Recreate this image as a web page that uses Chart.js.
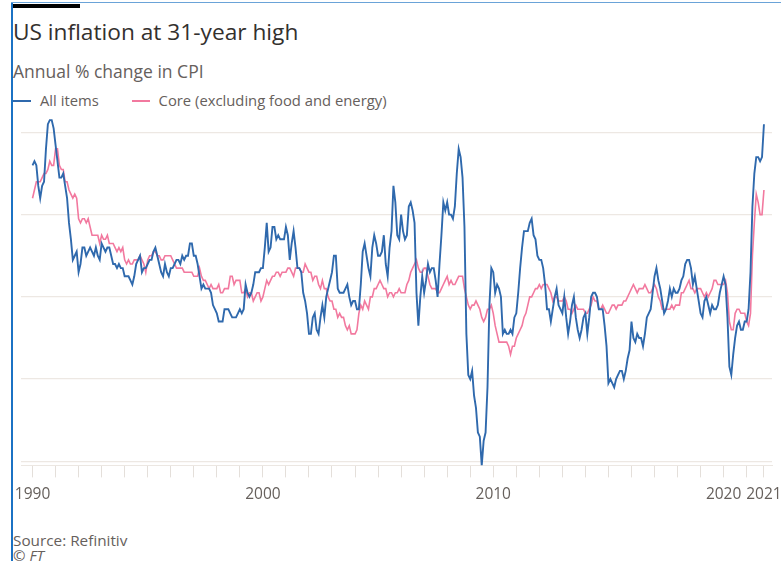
<!DOCTYPE html>
<html>
<head>
<meta charset="utf-8">
<script src="https://cdn.jsdelivr.net/npm/chart.js@4.4.1/dist/chart.umd.min.js"></script>
<style>
  html, body { margin: 0; padding: 0; background: #fff; }
  body { width: 781px; height: 561px; position: relative; overflow: hidden; font-family: "Open Sans", "Noto Sans", sans-serif; }
  .edge-left { position: absolute; left: 11px; top: 3px; width: 2px; height: 558px; background: #1b72c4; }
  .edge-top { position: absolute; left: 11px; top: 2px; width: 770px; height: 1px; background: #6aa3d8; }
  .bar { position: absolute; left: 13px; top: 4px; width: 67px; height: 4px; background: #000; }
  .title { position: absolute; left: 13px; top: 16px; font-size: 22.7px; color: #33302e; white-space: nowrap; letter-spacing: 0; }
  .subtitle { position: absolute; left: 13px; top: 59px; font-size: 17.5px; color: #66605c; white-space: nowrap; }
  .legend { position: absolute; left: 13px; top: 90px; font-size: 14.8px; color: #66605c; white-space: nowrap; }
  .legend span.key { display: inline-block; width: 18px; height: 2px; vertical-align: middle; margin-right: 9px; position: relative; top: -1px; }
  .legend span.item { margin-right: 29px; }
  .source { position: absolute; left: 13px; top: 533px; font-size: 15.3px; line-height: 15px; color: #66605c; white-space: nowrap; }
  .copy { position: absolute; left: 13px; top: 548px; font-size: 15px; line-height: 14px; color: #66605c; font-style: italic; white-space: nowrap; }
  #wrap { position: absolute; left: 0; top: 100px; width: 800px; height: 412px; }
</style>
</head>
<body>
<div class="edge-top"></div>
<div class="edge-left"></div>
<div class="bar"></div>
<div class="title">US inflation at 31-year high</div>
<div class="subtitle">Annual % change in CPI</div>
<div class="legend">
  <span class="key" style="background:#2f69ad"></span><span class="item">All items</span>
  <span class="key" style="background:#f2799f"></span><span>Core (excluding food and energy)</span>
</div>
<div id="wrap"><canvas id="chart"></canvas></div>
<div class="source">Source: Refinitiv</div>
<div class="copy">© FT</div>

<script>
// Monthly series, January 1990 onwards (annual % change in CPI)
const firstYear = 1990;

const allItems = [
  5.2, 5.3, 5.2, 4.7, 4.4, 4.7, 4.8, 5.6, 6.2, 6.3, 6.3, 6.1,
  5.7, 5.3, 4.9, 4.9, 5.0, 4.7, 4.4, 3.8, 3.4, 2.9, 3.0, 3.1,
  2.6, 2.8, 3.2, 3.2, 3.0, 3.1, 3.2, 3.1, 3.0, 3.2, 3.0, 2.9,
  3.3, 3.2, 3.1, 3.2, 3.2, 3.0, 2.8, 2.8, 2.7, 2.8, 2.7, 2.7,
  2.5, 2.5, 2.5, 2.4, 2.3, 2.5, 2.8, 2.9, 3.0, 2.6, 2.7, 2.7,
  2.8, 2.9, 2.9, 3.1, 3.2, 3.0, 2.8, 2.6, 2.5, 2.8, 2.6, 2.5,
  2.7, 2.7, 2.8, 2.9, 2.9, 2.8, 3.0, 2.9, 3.0, 3.0, 3.3, 3.3,
  3.0, 3.0, 2.8, 2.5, 2.2, 2.3, 2.2, 2.2, 2.2, 2.1, 1.8, 1.7,
  1.6, 1.4, 1.4, 1.4, 1.7, 1.7, 1.7, 1.6, 1.5, 1.5, 1.5, 1.6,
  1.7, 1.6, 1.7, 2.3, 2.1, 2.0, 2.1, 2.3, 2.6, 2.6, 2.6, 2.7,
  2.7, 3.2, 3.8, 3.1, 3.2, 3.7, 3.7, 3.4, 3.5, 3.4, 3.4, 3.4,
  3.7, 3.5, 2.9, 3.3, 3.6, 3.2, 2.7, 2.7, 2.6, 2.1, 1.9, 1.6,
  1.1, 1.1, 1.5, 1.6, 1.2, 1.1, 1.5, 1.8, 1.5, 2.0, 2.2, 2.4,
  2.6, 3.0, 3.0, 2.2, 2.1, 2.1, 2.1, 2.2, 2.3, 2.0, 1.8, 1.9,
  1.9, 1.7, 1.7, 2.3, 3.1, 3.3, 3.0, 2.7, 2.5, 3.2, 3.5, 3.3,
  3.0, 3.0, 3.1, 3.5, 2.8, 2.5, 3.2, 3.6, 4.7, 4.3, 3.5, 3.4,
  4.0, 3.6, 3.4, 3.5, 4.2, 4.3, 4.1, 3.8, 2.1, 1.3, 2.0, 2.5,
  2.1, 2.4, 2.8, 2.6, 2.7, 2.7, 2.4, 2.0, 2.8, 3.5, 4.3, 4.1,
  4.3, 4.0, 4.0, 3.9, 4.2, 5.0, 5.6, 5.4, 4.9, 3.7, 1.1, 0.1,
  0.0, 0.2, -0.4, -0.7, -1.3, -1.4, -2.1, -1.5, -1.3, -0.2, 1.8, 2.7,
  2.6, 2.1, 2.3, 2.2, 2.0, 1.1, 1.2, 1.1, 1.1, 1.2, 1.1, 1.5,
  1.6, 2.1, 2.7, 3.2, 3.6, 3.6, 3.6, 3.8, 3.9, 3.5, 3.4, 3.0,
  2.9, 2.9, 2.7, 2.3, 1.7, 1.7, 1.4, 1.7, 2.0, 2.2, 1.8, 1.7,
  1.6, 2.0, 1.5, 1.1, 1.4, 1.8, 2.0, 1.5, 1.2, 1.0, 1.2, 1.5,
  1.6, 1.1, 1.5, 2.0, 2.1, 2.1, 2.0, 1.7, 1.7, 1.7, 1.3, 0.8,
  -0.1, 0.0, -0.1, -0.2, 0.0, 0.1, 0.2, 0.2, 0.0, 0.2, 0.5, 0.7,
  1.4, 1.0, 0.9, 1.1, 1.0, 1.0, 0.8, 1.1, 1.5, 1.6, 1.7, 2.1,
  2.5, 2.7, 2.4, 2.2, 1.9, 1.6, 1.7, 1.9, 2.2, 2.0, 2.2, 2.1,
  2.1, 2.2, 2.4, 2.5, 2.8, 2.9, 2.9, 2.7, 2.3, 2.5, 2.2, 1.9,
  1.6, 1.5, 1.9, 2.0, 1.8, 1.6, 1.8, 1.7, 1.7, 1.8, 2.1, 2.3,
  2.5, 2.3, 1.5, 0.3, 0.1, 0.6, 1.0, 1.3, 1.4, 1.2, 1.2, 1.4,
  1.4, 1.7, 2.6, 4.2, 5.0, 5.4, 5.4, 5.3, 5.4, 6.2
];

const core = [
  4.4, 4.6, 4.8, 4.8, 4.8, 4.9, 5.0, 5.0, 5.1, 5.3, 5.2, 5.2,
  5.6, 5.6, 5.2, 5.1, 5.1, 4.8, 4.8, 4.6, 4.5, 4.4, 4.5, 4.4,
  3.9, 3.8, 3.9, 3.9, 3.8, 3.9, 3.7, 3.5, 3.5, 3.5, 3.5, 3.3,
  3.5, 3.4, 3.4, 3.5, 3.3, 3.3, 3.3, 3.2, 3.1, 3.2, 3.1, 3.2,
  2.9, 2.8, 2.9, 2.8, 2.8, 2.9, 2.9, 2.9, 3.0, 2.9, 2.8, 2.6,
  2.9, 3.0, 3.0, 3.1, 3.1, 3.0, 3.0, 2.9, 2.9, 3.0, 3.0, 3.0,
  3.0, 2.9, 2.8, 2.7, 2.7, 2.7, 2.7, 2.6, 2.6, 2.6, 2.6, 2.6,
  2.5, 2.5, 2.5, 2.7, 2.5, 2.4, 2.4, 2.3, 2.2, 2.3, 2.2, 2.2,
  2.2, 2.3, 2.1, 2.1, 2.2, 2.2, 2.2, 2.5, 2.5, 2.3, 2.4, 2.4,
  2.4, 2.1, 2.1, 2.2, 2.0, 2.1, 2.1, 1.9, 2.0, 2.1, 2.1, 1.9,
  2.0, 2.2, 2.4, 2.3, 2.4, 2.5, 2.5, 2.6, 2.6, 2.5, 2.6, 2.6,
  2.6, 2.7, 2.7, 2.6, 2.5, 2.7, 2.7, 2.7, 2.6, 2.6, 2.8, 2.7,
  2.6, 2.6, 2.4, 2.5, 2.5, 2.3, 2.2, 2.4, 2.2, 2.2, 2.0, 1.9,
  1.9, 1.7, 1.7, 1.5, 1.6, 1.5, 1.5, 1.3, 1.2, 1.3, 1.1, 1.1,
  1.1, 1.2, 1.6, 1.8, 1.7, 1.9, 1.8, 1.7, 2.0, 2.0, 2.2, 2.2,
  2.3, 2.4, 2.3, 2.2, 2.2, 2.0, 2.1, 2.1, 2.0, 2.1, 2.1, 2.2,
  2.1, 2.1, 2.1, 2.3, 2.4, 2.6, 2.7, 2.8, 2.9, 2.7, 2.6, 2.6,
  2.7, 2.7, 2.5, 2.3, 2.2, 2.2, 2.2, 2.1, 2.1, 2.2, 2.3, 2.4,
  2.5, 2.3, 2.4, 2.3, 2.3, 2.4, 2.5, 2.5, 2.5, 2.2, 2.0, 1.8,
  1.7, 1.8, 1.8, 1.9, 1.8, 1.7, 1.5, 1.4, 1.5, 1.7, 1.7, 1.8,
  1.6, 1.3, 1.1, 0.9, 0.9, 0.9, 0.9, 0.9, 0.8, 0.6, 0.8, 0.8,
  1.0, 1.1, 1.2, 1.3, 1.5, 1.6, 1.8, 2.0, 2.0, 2.1, 2.2, 2.2,
  2.3, 2.2, 2.3, 2.3, 2.3, 2.2, 2.1, 1.9, 2.0, 2.0, 1.9, 1.9,
  1.9, 2.0, 1.9, 1.7, 1.7, 1.6, 1.7, 1.8, 1.7, 1.7, 1.7, 1.7,
  1.6, 1.6, 1.7, 1.8, 2.0, 1.9, 1.9, 1.7, 1.7, 1.8, 1.7, 1.6,
  1.6, 1.7, 1.8, 1.8, 1.7, 1.8, 1.8, 1.8, 1.9, 1.9, 2.0, 2.1,
  2.2, 2.3, 2.2, 2.1, 2.2, 2.2, 2.2, 2.3, 2.2, 2.1, 2.1, 2.2,
  2.3, 2.2, 2.0, 1.9, 1.7, 1.7, 1.7, 1.7, 1.7, 1.8, 1.7, 1.8,
  1.8, 1.8, 2.1, 2.1, 2.2, 2.3, 2.4, 2.2, 2.2, 2.1, 2.2, 2.2,
  2.2, 2.1, 2.0, 2.1, 2.0, 2.1, 2.2, 2.4, 2.4, 2.3, 2.3, 2.3,
  2.3, 2.4, 2.1, 1.4, 1.2, 1.2, 1.6, 1.7, 1.7, 1.6, 1.6, 1.6,
  1.4, 1.3, 1.6, 3.0, 3.8, 4.5, 4.3, 4.0, 4.0, 4.6
];

// Axis labels: decade marks plus the latest year at the end of the data
const labelledYears = ['1990', '2000', '2010', '2020'];
const latestLabel = '2021';
const gridValues = [-2, 0, 2, 4, 6];

const lastIndex = allItems.length - 1;
const toPoints = arr => arr.map((v, i) => ({ x: i, y: v }));

const yearTicks = [];
for (let m = 0; m <= lastIndex; m += 12) yearTicks.push(m);
yearTicks.push(lastIndex);

function tickLabel(value) {
  if (value === lastIndex) return latestLabel;
  if (value % 12 !== 0) return '';
  const y = String(firstYear + value / 12);
  return labelledYears.includes(y) ? y : '';
}

new Chart(document.getElementById('chart'), {
  type: 'line',
  data: {
    datasets: [
      {
        label: 'All items',
        data: toPoints(allItems),
        borderColor: '#2f69ad',
        borderWidth: 1.9,
        pointRadius: 0,
        tension: 0,
        order: 1
      },
      {
        label: 'Core (excluding food and energy)',
        data: toPoints(core),
        borderColor: '#f2799f',
        borderWidth: 1.6,
        pointRadius: 0,
        tension: 0,
        order: 2
      }
    ]
  },
  options: {
    responsive: true,
    maintainAspectRatio: false,
    animation: false,
    layout: { padding: { left: 21, right: 28, top: 16, bottom: 0 } },
    plugins: { legend: { display: false }, tooltip: { enabled: false } },
    scales: {
      x: {
        type: 'linear',
        min: -6,
        max: lastIndex + 4.2,
        afterBuildTicks: axis => { axis.ticks = yearTicks.map(v => ({ value: v })); },
        grid: {
          drawOnChartArea: false,
          drawTicks: true,
          tickLength: 12,
          color: '#e4dfda'
        },
        border: { display: true, color: '#ece7e2' },
        ticks: {
          autoSkip: false,
          maxRotation: 0,
          padding: 8,
          color: '#66605c',
          font: { family: '"Open Sans", "Noto Sans", sans-serif', size: 15.5 },
          callback: v => tickLabel(v)
        }
      },
      y: {
        min: -2.1,
        max: 6.4,
        afterBuildTicks: axis => { axis.ticks = gridValues.map(v => ({ value: v })); },
        grid: { color: '#ede8e3', lineWidth: 1.2, drawTicks: false },
        border: { display: false },
        ticks: { display: false }
      }
    }
  }
});
</script>
</body>
</html>
